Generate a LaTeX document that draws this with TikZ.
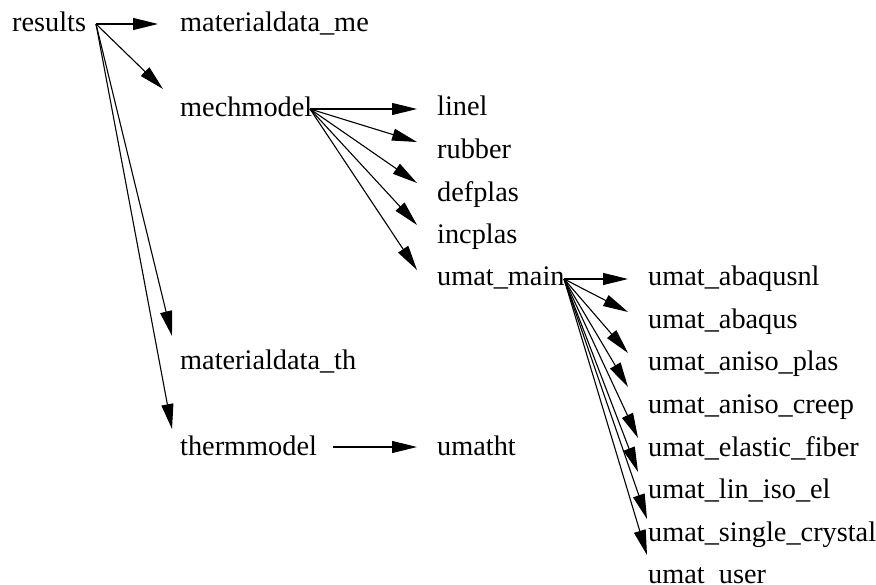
\documentclass[tikz,border=0pt]{standalone}
\usepackage{fontspec}
\setmainfont{Liberation Serif}
\usetikzlibrary{arrows.meta,calc}
\begin{document}
\begin{tikzpicture}[x=1pt,y=-1pt,
  lbl/.style={anchor=base west,inner sep=0pt,font=\fontsize{28.3pt}{34pt}\selectfont},
  edge/.style={line width=1.1pt,-{Triangle[length=25pt,width=12pt]}}]
\useasboundingbox[fill=white] (0,0) rectangle (876,585);
% column 1 and 2
\node[lbl] (results) at (12,32) {results};
\node[lbl] (me) at (180,32) {materialdata\_me};
\node[lbl] (mech) at (180,117) {mechmodel};
\node[lbl] (mth) at (180,370) {materialdata\_th};
\node[lbl] (therm) at (180,455) {thermmodel};
% column 3
\node[lbl] (linel) at (437,116) {linel};
\node[lbl] (rubber) at (437,159) {rubber};
\node[lbl] (defplas) at (437,202) {defplas};
\node[lbl] (incplas) at (437,244) {incplas};
\node[lbl] (umain) at (437,286) {umat\_main};
\node[lbl] (umatht) at (437,455) {umatht};
% column 4
\node[lbl] (u1) at (648,286) {umat\_abaqusnl};
\node[lbl] (u2) at (648,328.5) {umat\_abaqus};
\node[lbl] (u3) at (648,371) {umat\_aniso\_plas};
\node[lbl] (u4) at (648,413.5) {umat\_aniso\_creep};
\node[lbl] (u5) at (648,456) {umat\_elastic\_fiber};
\node[lbl] (u6) at (648,498.5) {umat\_lin\_iso\_el};
\node[lbl] (u7) at (648,541) {umat\_single\_crystal};
\node[lbl] (u8) at (648,583.5) {umat\_user};
% edges from results
\draw[edge] ($(results.base west)+(84,-8)$) -- ($(me.base west)+(-22,-8)$);
\draw[edge] ($(results.base west)+(84,-8)$) -- ($(mech.base west)+(-17,-28)$);
\draw[edge] ($(results.base west)+(84,-8)$) -- ($(mth.base west)+(-8,-34)$);
\draw[edge] ($(results.base west)+(84,-8)$) -- ($(therm.base west)+(-8,-26)$);
% edges from mechmodel
\draw[edge] ($(mech.base west)+(130,-8)$) -- ($(linel.base west)+(-20,-7)$);
\draw[edge] ($(mech.base west)+(130,-8)$) -- ($(rubber.base west)+(-20,-17)$);
\draw[edge] ($(mech.base west)+(130,-8)$) -- ($(defplas.base west)+(-20,-19)$);
\draw[edge] ($(mech.base west)+(130,-8)$) -- ($(incplas.base west)+(-20,-19)$);
\draw[edge] ($(mech.base west)+(130,-8)$) -- ($(umain.base west)+(-20,-16)$);
% edge from thermmodel
\draw[edge] ($(therm.base west)+(153,-8)$) -- ($(umatht.base west)+(-20,-8)$);
% edges from umat_main
\draw[edge] ($(umain.base west)+(127,-7)$) -- ($(u1.base west)+(-20,-7)$);
\draw[edge] ($(umain.base west)+(127,-7)$) -- ($(u2.base west)+(-20,-16.5)$);
\draw[edge] ($(umain.base west)+(127,-7)$) -- ($(u3.base west)+(-20,-18)$);
\draw[edge] ($(umain.base west)+(127,-7)$) -- ($(u4.base west)+(-20,-26.5)$);
\draw[edge] ($(umain.base west)+(127,-7)$) -- ($(u5.base west)+(-10,-18)$);
\draw[edge] ($(umain.base west)+(127,-7)$) -- ($(u6.base west)+(-10,-26.5)$);
\draw[edge] ($(umain.base west)+(127,-7)$) -- ($(u7.base west)+(-1,-22)$);
\draw[edge] ($(umain.base west)+(127,-7)$) -- ($(u8.base west)+(-1,-28.5)$);
\end{tikzpicture}
\end{document}
